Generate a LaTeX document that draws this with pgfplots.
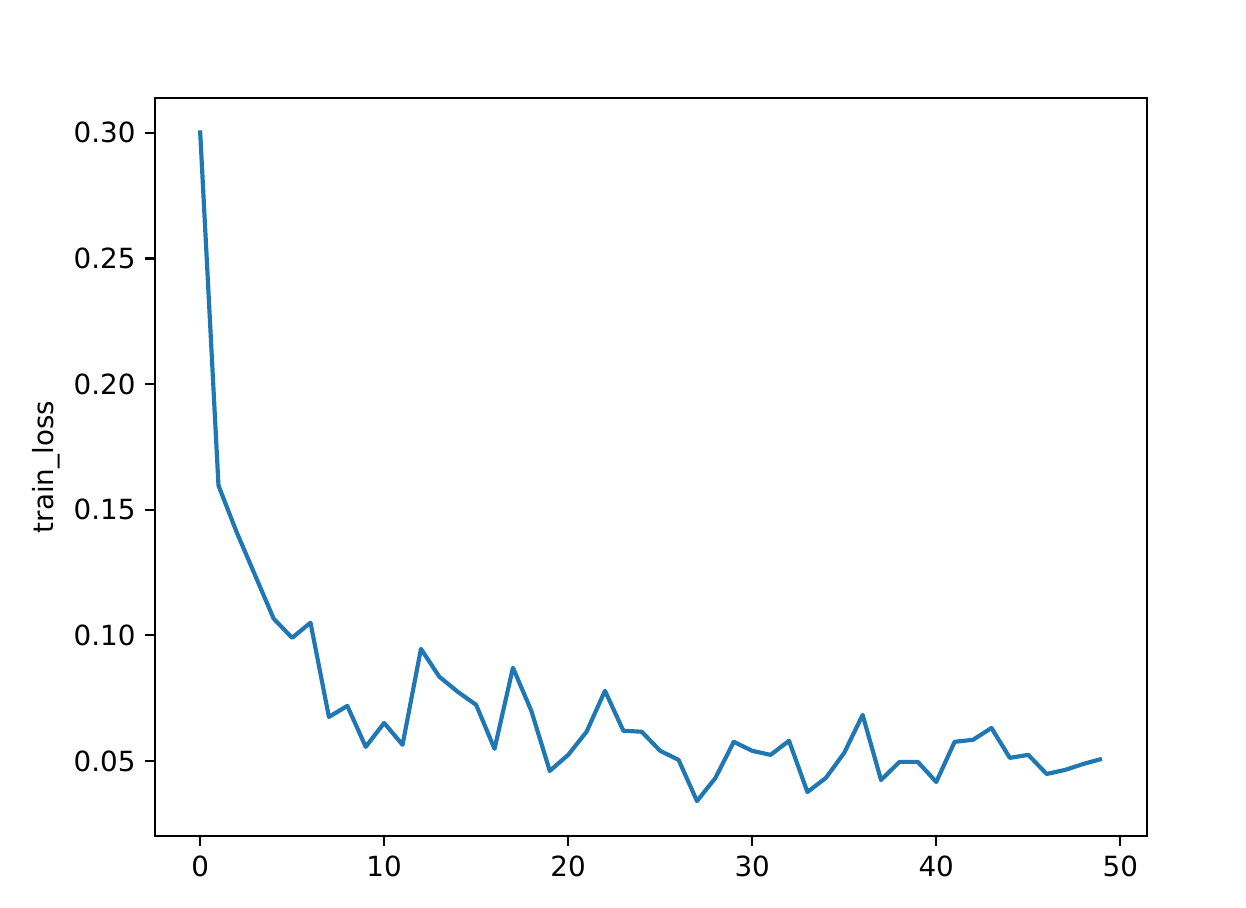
\documentclass[border=0pt]{standalone}
\usepackage{fontspec}
\setmainfont{DejaVu Sans}
\usepackage{pgfplots}
\pgfplotsset{compat=1.18}
\definecolor{mplblue}{HTML}{1F77B4}
\begin{document}
\begin{tikzpicture}
\path[use as bounding box] (-55.8pt,-25.56pt) rectangle (392.76pt,300.96pt);
\begin{axis}[
  at={(0,0)}, anchor=south west,
  scale only axis,
  width=357.1pt, height=265.7pt,
  xmin=-2.45, xmax=51.45,
  ymin=0.0201, ymax=0.3139,
  xtick={0,10,20,30,40,50},
  ytick={0.05,0.10,0.15,0.20,0.25,0.30},
  yticklabel style={/pgf/number format/.cd, fixed, fixed zerofill, precision=2},
  /pgf/number format/assume math mode=true,
  tick align=outside,
  major tick length=3.5pt,
  every tick/.style={black, line width=0.8pt},
  axis line style={line width=0.8pt},
  xtick pos=bottom, ytick pos=left,
  tick label style={font=\fontsize{10}{12}\selectfont},
  label style={font=\fontsize{10}{12}\selectfont},
  ylabel={train\_loss},
  ylabel shift=-2pt,
]
\addplot[mplblue, line width=1.5pt, line join=round] coordinates {
(0,0.301) (1,0.1596) (2,0.1408) (3,0.1237) (4,0.1066) (5,0.0990) (6,0.1050)
(7,0.0675) (8,0.0719) (9,0.0556) (10,0.0651) (11,0.0564) (12,0.0946)
(13,0.0835) (14,0.0775) (15,0.0723) (16,0.0548) (17,0.0871) (18,0.0699)
(19,0.0460) (20,0.0524) (21,0.0616) (22,0.0779) (23,0.0620) (24,0.0616)
(25,0.0540) (26,0.0504) (27,0.0340) (28,0.0432) (29,0.0576) (30,0.0540)
(31,0.0524) (32,0.0580) (33,0.0376) (34,0.0432) (35,0.0532) (36,0.0683)
(37,0.0424) (38,0.0496) (39,0.0496) (40,0.0416) (41,0.0576) (42,0.0584)
(43,0.0631) (44,0.0512) (45,0.0524) (46,0.0448) (47,0.0464) (48,0.0488)
(49,0.0508)
};
\end{axis}
\end{tikzpicture}
\end{document}
